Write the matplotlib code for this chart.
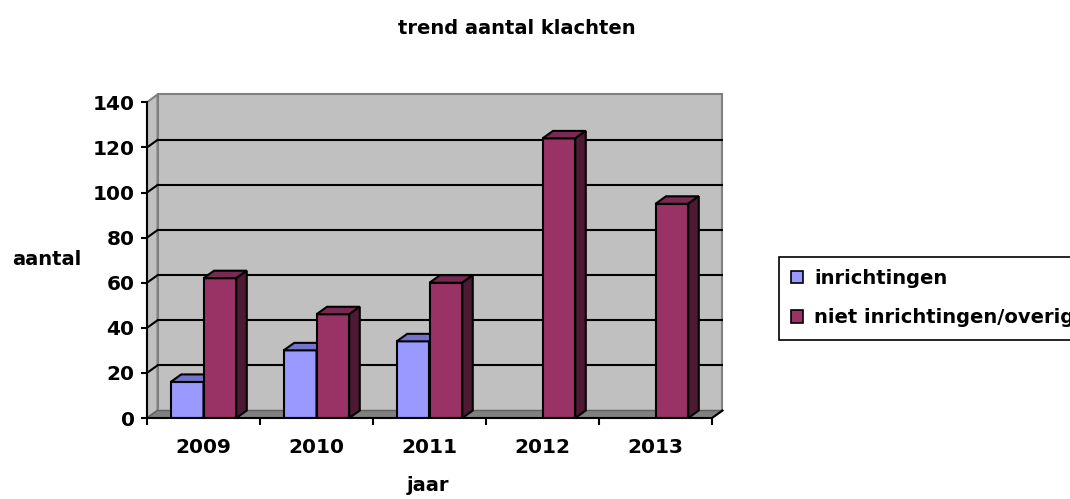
import matplotlib.pyplot as plt
from matplotlib.patches import Polygon, Rectangle

jaren = ['2009', '2010', '2011', '2012', '2013']
inrichtingen = [16, 30, 34, 0, 0]
overig = [62, 46, 60, 124, 95]
yticks = [0, 20, 40, 60, 80, 100, 120, 140]

plt.rcParams['font.family'] = ['DejaVu Sans']
plt.rcParams['font.weight'] = 'bold'

W, H = 1070, 499
fig = plt.figure(figsize=(W / 100, H / 100), dpi=100)
ax = fig.add_axes([147 / W, 1 - 418 / H, 576.3 / W, 324 / H])
ax.set_xlim(-0.5, 4.6)
ax.set_ylim(0, 143.7)

# depth offset in data units (~10.5 px right, ~7.5 px up)
dx = 10.5 / 113
dy = 7.5 / 2.255
n = len(jaren)
x_left, x_right = -0.5, n - 0.5
top = yticks[-1]
wall_top = top + 3.5

# back wall, side wall, floor
ax.add_patch(Rectangle((x_left + dx, dy), n, wall_top - dy, facecolor='#c0c0c0',
                       edgecolor='#808080', lw=1.5, zorder=0, clip_on=False))
ax.add_patch(Polygon([(x_left, 0), (x_left + dx, dy), (x_left + dx, wall_top), (x_left, top)],
                     closed=True, facecolor='#c0c0c0', edgecolor='#808080', lw=1.5, zorder=0,
                     clip_on=False))
ax.add_patch(Polygon([(x_left, 0), (x_right, 0), (x_right + dx, dy), (x_left + dx, dy)],
                     closed=True, facecolor='#808080', edgecolor='#606060', lw=1, zorder=1))
for v in yticks[1:-1]:
    ax.plot([x_left + dx, x_right + dx], [v + dy, v + dy], color='black', lw=1.5, zorder=1)
for v in yticks[1:-1]:
    ax.plot([x_left, x_left + dx], [v, v + dy], color='black', lw=1.5, zorder=1)


def bar3d(x0, w, h, front, topc, side):
    if h <= 0:
        return
    ax.add_patch(Rectangle((x0, 0), w, h, facecolor=front, edgecolor='black', lw=1.5, zorder=3))
    ax.add_patch(Polygon([(x0, h), (x0 + w, h), (x0 + w + dx, h + dy), (x0 + dx, h + dy)],
                         closed=True, facecolor=topc, edgecolor='black', lw=1.5, zorder=3))
    ax.add_patch(Polygon([(x0 + w, 0), (x0 + w + dx, dy), (x0 + w + dx, h + dy), (x0 + w, h)],
                         closed=True, facecolor=side, edgecolor='black', lw=1.5, zorder=3))


w = 0.29
for i in range(n):
    bar3d(i - w, w, inrichtingen[i], '#9999ff', '#7373cc', '#4d4d80')
    bar3d(i, w, overig[i], '#993366', '#7a2952', '#4d1933')

# axes
for s in ['top', 'right']:
    ax.spines[s].set_visible(False)
ax.spines['left'].set_bounds(0, top)
ax.spines['bottom'].set_bounds(x_left, x_right)
for s in ['left', 'bottom']:
    ax.spines[s].set_linewidth(1.5)
    ax.spines[s].set_zorder(4)
ax.plot([x_right, x_right + dx], [0, dy], color='black', lw=1.5, zorder=4, clip_on=False)

ax.set_yticks(yticks)
ax.set_yticklabels([str(v) for v in yticks], fontsize=14.5, fontweight='bold')
ax.tick_params(axis='y', length=4, width=1.5, pad=5)

ax.set_xticks([i - 0.5 for i in range(n + 1)])
ax.set_xticklabels([])
ax.tick_params(axis='x', length=5, width=1.5, direction='out')
label_y = -(453 - 418) / 2.255
for i, j in enumerate(jaren):
    ax.text(i, label_y, j, ha='center', va='baseline', fontsize=14.5, fontweight='bold')

fig.text(517 / W, 1 - 34 / H, 'trend aantal klachten', ha='center', va='baseline',
         fontsize=14, fontweight='bold')
fig.text(47 / W, 1 - 265 / H, 'aantal', ha='center', va='baseline', fontsize=14, fontweight='bold')
fig.text(428 / W, 1 - 491 / H, 'jaar', ha='center', va='baseline', fontsize=14, fontweight='bold')

handles = [Rectangle((0, 0), 1, 1, facecolor='#9999ff', edgecolor='black', lw=1.2),
           Rectangle((0, 0), 1, 1, facecolor='#993366', edgecolor='black', lw=1.2)]
leg = fig.legend(handles, ['inrichtingen', 'niet inrichtingen/overige'],
                 loc='upper left', bbox_to_anchor=(779 / W, 1 - 257 / H),
                 prop={'size': 14, 'weight': 'bold'}, frameon=True, fancybox=False,
                 edgecolor='black', handlelength=0.6, handleheight=0.6, handletextpad=0.6,
                 borderpad=0.62, labelspacing=1.05, borderaxespad=0, framealpha=1)
leg.get_frame().set_linewidth(1.2)

fig.savefig('out.png', dpi=100)
